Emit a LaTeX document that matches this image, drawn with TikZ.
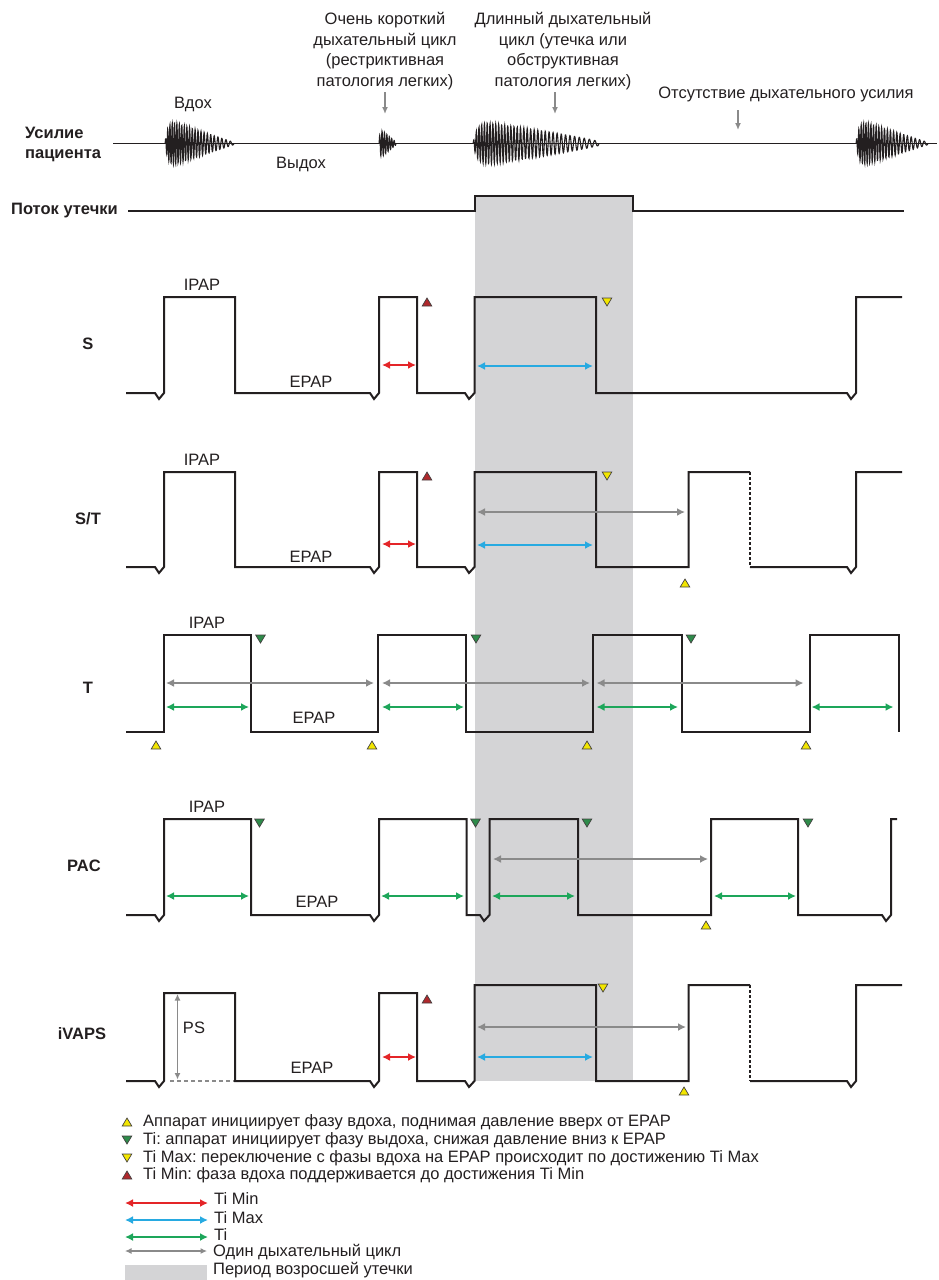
\documentclass[tikz,border=0pt]{standalone}
\usepackage{fontspec}
\setmainfont{Liberation Sans}
\usetikzlibrary{arrows.meta}
\definecolor{ink}{HTML}{231F20}
\definecolor{bandgray}{HTML}{D4D4D6}
\definecolor{cred}{HTML}{E42528}
\definecolor{cblue}{HTML}{27AAE1}
\definecolor{cgreen}{HTML}{1DA65A}
\definecolor{cgray}{HTML}{8A8A8A}
\definecolor{tyellow}{HTML}{F2E600}
\definecolor{tgreen}{HTML}{2E8B4A}
\definecolor{tred}{HTML}{B0282C}
\frenchspacing
\begin{document}
\begin{tikzpicture}[x=1pt,y=-1pt,
  txt/.style={font=\fontsize{16.5}{20.5}\selectfont, text=ink, inner sep=0pt},
  rowlab/.style={font=\fontsize{16.5}{20}\selectfont\bfseries, text=ink, inner sep=0pt},
  wave/.style={line width=2pt, draw=ink, line join=miter},
  burst/.style={line width=1.1pt, draw=ink},
  dbl/.style={{Latex[length=8pt,width=8pt]}-{Latex[length=8pt,width=8pt]}, line width=1.8pt},
  cyc/.style={dbl, draw=cgray},
  thin dbl/.style={{Latex[length=6.5pt,width=6pt]}-{Latex[length=6.5pt,width=6pt]}, line width=1.2pt, draw=cgray},
  pointer/.style={-{Latex[length=7pt,width=6pt]}, line width=1.4pt, draw=cgray},
  pics/tup/.style={code={\filldraw[fill=#1, draw=ink!85, line width=0.7pt] (-4.8,4) -- (4.8,4) -- (0,-4) -- cycle;}},
  pics/tdn/.style={code={\filldraw[fill=#1, draw=ink!85, line width=0.7pt] (-4.8,-4) -- (4.8,-4) -- (0,4) -- cycle;}}
]
\useasboundingbox (0,0) rectangle (939,1280);

% period of increased leak
\fill[bandgray] (474.5,196) rectangle (633,1081);

% ---------------- top annotations ----------------
\node[txt, align=center] (short) at (385,51) {Очень короткий\\дыхательный цикл\\(рестриктивная\\патология легких)};
\node[txt, align=center] (long) at (563,51) {Длинный дыхательный\\цикл (утечка или\\обструктивная\\патология легких)};
\node[txt] (absent) at (786,94) {Отсутствие дыхательного усилия};
\node[txt] (insp) at (193,104) {Вдох};
\node[txt] (exp) at (301,164) {Выдох};
\coordinate (a1) at (385,114);
\coordinate (a2) at (555,114);
\coordinate (a3) at (738,130);
\draw[pointer] (385,92) -- (a1);
\draw[pointer] (555,92) -- (a2);
\draw[pointer] (738,110) -- (a3);

% patient effort
\node[rowlab, anchor=west, align=left] (effort) at (25,144) {Усилие\\пациента};
\draw[line width=1.4pt, ink] (113,143.5) -- (937,143.5);
\draw[burst] plot[domain=0:1, samples=360, smooth] ({165+69*\x}, {143.5 - 23*(1-exp(-25*\x))*(1.05-\x)*sin(360*(32*\x-9*\x*\x))});
\draw[burst] plot[domain=0:1, samples=120, smooth] ({379+17*\x}, {143.5 - 14*(1-exp(-20*\x))*(1.1-\x)*sin(360*(7*\x))});
\draw[burst] plot[domain=0:1, samples=560, smooth] ({473+126*\x}, {143.5 - 22*(1-exp(-30*\x))*(1.05-\x)^0.8*sin(360*(48*\x-13*\x*\x))});
\draw[burst] plot[domain=0:1, samples=360, smooth] ({856+72*\x}, {143.5 - 23*(1-exp(-25*\x))*(1.05-\x)*sin(360*(32*\x-9*\x*\x))});

% leak flow
\node[rowlab, anchor=west] (leak) at (11,211) {Поток утечки};
\draw[wave] (128,211) -- (474.5,211) -- (474.5,196) -- (633,196) -- (633,211) -- (904,211);

% ---------------- S ----------------
\node[rowlab] (labS) at (88,344) {S};
\draw[wave] (126,393) -- (155,393) -- (159,399) -- (164,393) -- (164,297) -- (235,297) -- (235,393)
  -- (370,393) -- (374,399) -- (379,393) -- (379,297) -- (417,297) -- (417,393)
  -- (465,393) -- (469,399) -- (474.5,393) -- (474.5,297) -- (596,297) -- (596,393)
  -- (847,393) -- (851,399) -- (856,393) -- (856,297) -- (902,297);
\node[txt] (ipapS) at (202,285) {IPAP};
\node[txt] (epapS) at (311,382) {EPAP};
\draw[dbl, cred] (382,365) -- (416,365);
\draw[dbl, cblue] (477,366) -- (593,366);
\pic at (427,302) {tup=tred};
\pic at (607,302) {tdn=tyellow};

% ---------------- S/T ----------------
\node[rowlab] (labST) at (88,519) {S/T};
\draw[wave] (126,567) -- (155,567) -- (159,573) -- (164,567) -- (164,472) -- (235,472) -- (235,567)
  -- (370,567) -- (374,573) -- (379,567) -- (379,472) -- (417,472) -- (417,567)
  -- (465,567) -- (469,573) -- (474.5,567) -- (474.5,472) -- (596,472) -- (596,567)
  -- (688.5,567) -- (688.5,472) -- (750,472);
\draw[line width=1.6pt, ink, dash pattern=on 3pt off 2pt] (750,472) -- (750,567);
\draw[wave] (750,567) -- (847,567) -- (851,573) -- (856,567) -- (856,472) -- (902,472);
\node[txt] (ipapST) at (202,460) {IPAP};
\node[txt] (epapST) at (311,557) {EPAP};
\draw[cyc] (477,512) -- (685,512);
\draw[dbl, cred] (382,544) -- (416,544);
\draw[dbl, cblue] (477,545) -- (593,545);
\pic at (427,476) {tup=tred};
\pic at (607,476) {tdn=tyellow};
\pic at (685,583) {tup=tyellow};

% ---------------- T ----------------
\node[rowlab] (labT) at (88,688) {T};
\draw[wave] (126,732) -- (164,732) -- (164,635) -- (251,635) -- (251,732)
  -- (378,732) -- (378,635) -- (466,635) -- (466,732)
  -- (593,732) -- (593,635) -- (682,635) -- (682,732)
  -- (810,732) -- (810,635) -- (899,635) -- (899,732);
\node[txt] (ipapT) at (207,623) {IPAP};
\node[txt] (epapT) at (314,718) {EPAP};
\draw[cyc] (166,683) -- (374,683);
\draw[cyc] (382,683) -- (590,683);
\draw[cyc] (596.5,683) -- (803.5,683);
\draw[dbl, cgreen] (166,707) -- (249,707);
\draw[dbl, cgreen] (382,707) -- (464,707);
\draw[dbl, cgreen] (596.5,707) -- (678,707);
\draw[dbl, cgreen] (811.5,707) -- (893.5,707);
\pic at (260.5,639) {tdn=tgreen};
\pic at (476,639) {tdn=tgreen};
\pic at (691,639) {tdn=tgreen};
\pic at (156,745) {tup=tyellow};
\pic at (372,745) {tup=tyellow};
\pic at (587,745) {tup=tyellow};
\pic at (806,745) {tup=tyellow};

% ---------------- PAC ----------------
\node[rowlab] (labPAC) at (84,866) {PAC};
\draw[wave] (126,915) -- (155,915) -- (159,921) -- (164,915) -- (164,819) -- (251,819) -- (251,915)
  -- (370,915) -- (374,921) -- (379,915) -- (379,819) -- (466.5,819) -- (466.5,915)
  -- (480,915) -- (484,921) -- (489.5,915) -- (489.5,819) -- (578,819) -- (578,915)
  -- (711,915) -- (711,819) -- (798,819) -- (798,915)
  -- (882,915) -- (886,921) -- (891,915) -- (891,819) -- (897,819);
\node[txt] (ipapPAC) at (207,807) {IPAP};
\node[txt] (epapPAC) at (317,902) {EPAP};
\draw[cyc] (493,859) -- (708,859);
\draw[dbl, cgreen] (166,896) -- (249,896);
\draw[dbl, cgreen] (381,896) -- (464,896);
\draw[dbl, cgreen] (492,896) -- (575,896);
\draw[dbl, cgreen] (714,896) -- (796,896);
\pic at (259.5,823) {tdn=tgreen};
\pic at (475.5,823) {tdn=tgreen};
\pic at (587,823) {tdn=tgreen};
\pic at (808,823) {tdn=tgreen};
\pic at (706,925) {tup=tyellow};

% ---------------- iVAPS ----------------
\node[rowlab] (labIV) at (82,1034) {iVAPS};
\draw[wave] (126,1081) -- (155,1081) -- (159,1087) -- (164,1081) -- (164,993) -- (235,993) -- (235,1081)
  -- (370,1081) -- (374,1087) -- (379,1081) -- (379,993) -- (417,993) -- (417,1081)
  -- (465,1081) -- (469,1087) -- (474.5,1081) -- (474.5,985) -- (596,985) -- (596,1081)
  -- (688.5,1081) -- (688.5,985) -- (750,985);
\draw[line width=1.6pt, ink, dash pattern=on 3pt off 2pt] (750,985) -- (750,1081);
\draw[wave] (750,1081) -- (847,1081) -- (851,1087) -- (856,1081) -- (856,985) -- (902,985);
\draw[line width=1.6pt, cgray, dash pattern=on 4pt off 3pt] (170,1081) -- (234,1081);
\coordinate (psTop) at (177.5,994);
\coordinate (psBot) at (177.5,1079.5);
\draw[thin dbl] (psTop) -- (psBot);
\node[txt] (ps) at (194,1028) {PS};
\node[txt] (epapIV) at (312,1068) {EPAP};
\draw[cyc] (477,1027) -- (686,1027);
\draw[dbl, cred] (382,1057) -- (416,1057);
\draw[dbl, cblue] (477,1057) -- (593,1057);
\pic at (427,999) {tup=tred};
\pic at (603,988) {tdn=tyellow};
\pic at (684,1091) {tup=tyellow};

% ---------------- legend ----------------
\pic at (127,1122) {tup=tyellow};
\node[txt, anchor=west] (l1) at (143,1122) {Аппарат инициирует фазу вдоха, поднимая давление вверх от EPAP};
\pic at (127,1140) {tdn=tgreen};
\node[txt, anchor=west] (l2) at (143,1140) {Ti: аппарат инициирует фазу выдоха, снижая давление вниз к EPAP};
\pic at (127,1158) {tdn=tyellow};
\node[txt, anchor=west] (l3) at (143,1158) {Ti Max: переключение с фазы вдоха на EPAP происходит по достижению Ti Max};
\pic at (127,1175) {tup=tred};
\node[txt, anchor=west] (l4) at (143,1175) {Ti Min: фаза вдоха поддерживается до достижения Ti Min};
\draw[dbl, cred] (125,1203) -- (208,1203);
\node[txt, anchor=west] (l5) at (214,1199) {Ti Min};
\draw[dbl, cblue] (125,1220) -- (208,1220);
\node[txt, anchor=west] (l6) at (214,1218) {Ti Max};
\draw[dbl, cgreen] (125,1237) -- (208,1237);
\node[txt, anchor=west] (l7) at (214,1235) {Ti};
\draw[thin dbl] (125,1251) -- (207,1251);
\node[txt, anchor=west] (l8) at (213,1252) {Один дыхательный цикл};
\fill[bandgray] (125,1265) rectangle (207,1280);
\node[txt, anchor=west] (l9) at (213,1270) {Период возросшей утечки};
\end{tikzpicture}
\end{document}
